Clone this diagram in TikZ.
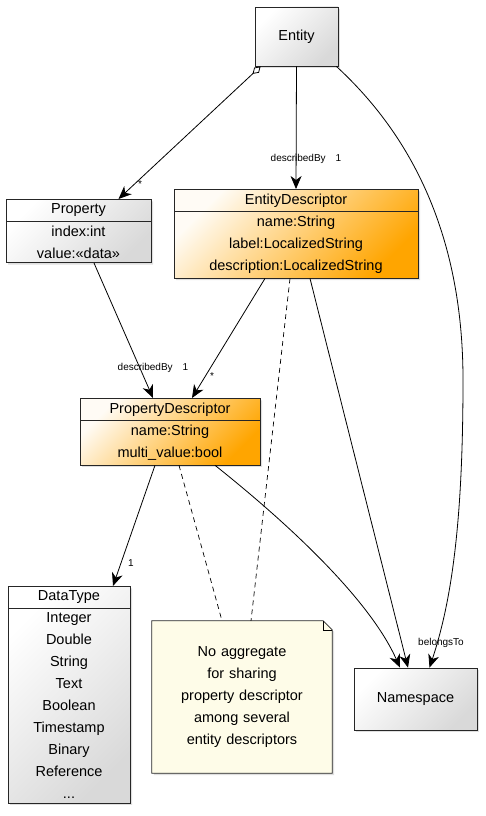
\documentclass[tikz,border=0pt]{standalone}
\usepackage{fontspec}
\setmainfont{Liberation Sans}
\usetikzlibrary{shapes.multipart,arrows.meta,shadows,backgrounds}

\definecolor{boxgray}{HTML}{D9D9D9}
\definecolor{descorange}{HTML}{FFA500}
\definecolor{notebg}{HTML}{FEFCE8}

\begin{document}
\begin{tikzpicture}[x=1pt,y=-1pt,
    font=\fontsize{14.5}{22}\selectfont,
    shadowed/.style={drop shadow={opacity=.25,shadow xshift=2pt,shadow yshift=-2pt}},
    graybox/.style={draw=black!85,line width=.8pt,top color=white,bottom color=boxgray,shading angle=45,shadowed},
    orangebox/.style={draw=black!85,line width=.8pt,top color=descorange!4,bottom color=descorange,shading angle=45,shadowed},
    classbox/.style={rectangle split,rectangle split parts=2,anchor=north,align=center,inner xsep=2pt,inner ysep=4pt},
    tip/.tip={Stealth[length=13pt,width=11pt,inset=4pt,line width=.8pt]},
    assoc/.style={line width=.8pt,-tip},
    notelink/.style={line width=.7pt,dash pattern=on 5pt off 4pt},
    lbl/.style={font=\fontsize{10}{11}\selectfont,inner sep=1pt}]
\def\fold{9}

\useasboundingbox (0,0) rectangle (485,816);

\node[graybox,minimum width=83,minimum height=59] (Entity) at (296.5,36.5) {Entity};
\node[classbox,graybox,text width=141] (Property) at (78.5,199)
    {Property \nodepart{two} index:int\\value:«data»};
\node[classbox,orangebox,text width=240] (EntityDescriptor) at (296,189)
    {EntityDescriptor \nodepart{two} name:String\\label:LocalizedString\\description:LocalizedString};
\node[classbox,orangebox,text width=176] (PropertyDescriptor) at (170,398)
    {PropertyDescriptor \nodepart{two} name:String\\multi\_value:bool};
\node[classbox,graybox,text width=118] (DataType) at (69,586)
    {DataType \nodepart{two} Integer\\Double\\String\\Text\\Boolean\\Timestamp\\Binary\\Reference\\...};
\node[graybox,minimum width=123,minimum height=62] (Namespace) at (415.5,699) {Namespace};
\node[minimum width=180,minimum height=152,text width=170,align=center] (note) at (242,697)
    {No aggregate\\for sharing\\property descriptor\\among several\\entity descriptors};

\begin{scope}[on background layer]
\filldraw[fill=notebg,draw=black!85,line width=.8pt,shadowed] (note.north west) -- ([xshift=-\fold]note.north east)
    -- ([yshift=-\fold]note.north east) -- (note.south east) -- (note.south west) -- cycle;
\end{scope}
\draw[line width=.6pt] ([xshift=-\fold]note.north east) -- ([xshift=-\fold,yshift=-\fold]note.north east)
    -- ([yshift=-\fold]note.north east);

\draw[assoc,{Diamond[open,length=11pt,width=7pt]}-tip] ([xshift=6]Entity.south west) -- ([xshift=40]Property.north);
\draw[assoc] (Entity.south) -- (EntityDescriptor.north);
\draw[assoc] ([xshift=-2]Entity.south east) .. controls (400,125) and (463,220) .. (463,380)
    .. controls (463,520) and (452,600) .. ([xshift=14]Namespace.north);
\draw[assoc] ([xshift=15.5]Property.south) -- ([xshift=-17]PropertyDescriptor.north);
\draw[assoc] ([xshift=-31]EntityDescriptor.south) -- ([xshift=22]PropertyDescriptor.north);
\draw[assoc] ([xshift=14]EntityDescriptor.south) -- ([xshift=-7.5]Namespace.north);
\draw[assoc] ([xshift=-15]PropertyDescriptor.south) -- ([xshift=44]DataType.north);
\draw[assoc] ([xshift=45]PropertyDescriptor.south) .. controls (290,525) and (370,600) .. ([xshift=-15.5]Namespace.north);
\draw[notelink] ([xshift=-6]EntityDescriptor.south) -- ([xshift=9]note.north);
\draw[notelink] ([xshift=9]PropertyDescriptor.south) -- ([xshift=-20]note.north);

\node[lbl] (propMult) at (140,184) {*};
\node[lbl] (entDesc) at (306,159) {describedBy\quad 1};
\node[lbl] (propDesc) at (153,368) {describedBy\quad 1};
\node[lbl] (pdMult) at (212,376) {*};
\node[lbl] (typeMult) at (131,563) {1};
\node[lbl] (nsBelongs) at (441,643) {belongsTo};
\end{tikzpicture}
\end{document}
